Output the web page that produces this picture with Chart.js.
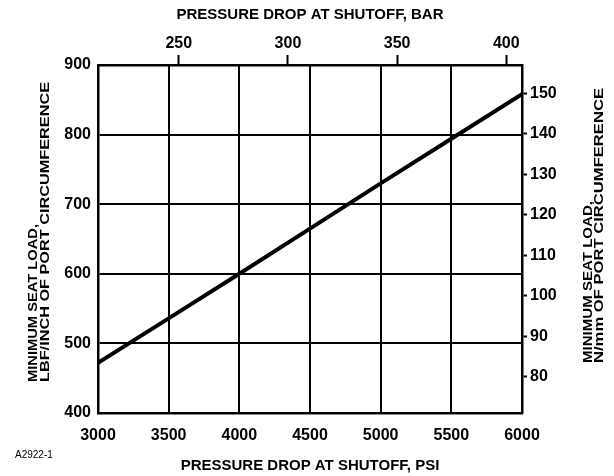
<!DOCTYPE html>
<html>
<head>
<meta charset="utf-8">
<title>Minimum seat load vs pressure drop</title>
<script src="https://cdn.jsdelivr.net/npm/chart.js@4.4.1/dist/chart.umd.min.js"></script>
<style>
  html, body { margin: 0; padding: 0; background: #fff; }
  canvas { display: block; }
</style>
</head>
<body>
<canvas id="seatChart" width="614" height="476"></canvas>
<script>
// Values
const psiValues = [3000, 3500, 4000, 4500, 5000, 5500, 6000];
const seatLoadLbf = [472, 536, 600, 665, 730, 794, 858];

const psiTicks = [3000, 3500, 4000, 4500, 5000, 5500, 6000];
const lbfTicks = [400, 500, 600, 700, 800, 900];
const barTicks = [250, 300, 350, 400];
const nmmTicks = [80, 90, 100, 110, 120, 130, 140, 150];

const leftTitle = ['MINIMUM SEAT LOAD,', 'LBF/INCH OF PORT CIRCUMFERENCE'];
const rightTitle = ['MINIMUM SEAT LOAD,', 'N/mm OF PORT CIRCUMFERENCE'];
const figureNote = 'A2922-1';

const FONT = '"Liberation Sans", Arial, Helvetica, sans-serif';
const tickFont = { family: FONT, size: 16, weight: 'bold' };
const titleFont = { family: FONT, size: 15, weight: 'bold' };

function fixedTicks(list) {
    return function(scale) {
        scale.ticks = list.map(function(v) { return { value: v }; });
    };
}

// the scanned side titles are stretched along their length, so fit each line to a length
function drawVertical(ctx, lines, lengths, x, yBottom, gap) {
    lines.forEach(function(text, i) {
        const w = ctx.measureText(text).width;
        ctx.save();
        ctx.translate(x + i * gap, yBottom);
        ctx.rotate(-Math.PI / 2);
        ctx.scale(lengths[i] / w, 1);
        ctx.fillText(text, 0, 0);
        ctx.restore();
    });
}

const sideTitles = {
    id: 'sideTitles',
    afterDraw(chart) {
        const ctx = chart.ctx;
        ctx.save();
        ctx.fillStyle = '#000';
        ctx.textAlign = 'left';
        ctx.textBaseline = 'middle';
        ctx.font = 'bold 12.5px ' + FONT;
        drawVertical(ctx, leftTitle, [158, 300], 34, 382, 12);
        drawVertical(ctx, rightTitle, [162, 275], 589, 363, 11);
        ctx.font = '10px ' + FONT;
        ctx.fillText(figureNote, 15, 455);
        ctx.restore();
    }
};

const plain = function(v) { return String(v); };

new Chart(document.getElementById('seatChart'), {
    type: 'line',
    data: {
        datasets: [{
            data: psiValues.map(function(p, i) { return { x: p, y: seatLoadLbf[i] }; }),
            borderColor: '#000',
            borderWidth: 4,
            pointRadius: 0,
            tension: 0,
            xAxisID: 'x',
            yAxisID: 'y'
        }]
    },
    options: {
        responsive: false,
        animation: false,
        layout: { padding: 0 },
        plugins: { legend: { display: false }, tooltip: { enabled: false } },
        scales: {
            x: {
                type: 'linear', position: 'bottom', min: 3000, max: 6000,
                afterBuildTicks: fixedTicks(psiTicks),
                afterFit: function(s) { s.height = 63; },
                grid: { color: '#000', lineWidth: 2, drawTicks: false },
                border: { color: '#000', width: 2.5 },
                ticks: { font: tickFont, color: '#000', padding: 13, callback: plain },
                title: { display: true, text: 'PRESSURE DROP AT SHUTOFF, PSI', font: titleFont, color: '#000', padding: { top: 0, bottom: 1 } }
            },
            xTop: {
                type: 'linear', axis: 'x', position: 'top', min: 213, max: 407.2,
                afterBuildTicks: fixedTicks(barTicks),
                afterFit: function(s) { s.height = 65; },
                grid: { drawOnChartArea: false, drawTicks: true, tickLength: 10, tickWidth: 2, tickColor: '#000' },
                border: { color: '#000', width: 2.5 },
                ticks: { font: tickFont, color: '#000', padding: 2, callback: plain },
                title: { display: true, text: 'PRESSURE DROP AT SHUTOFF, BAR', font: titleFont, color: '#000', padding: { top: 6, bottom: 0 } }
            },
            y: {
                type: 'linear', position: 'left', min: 400, max: 900,
                afterBuildTicks: fixedTicks(lbfTicks),
                afterFit: function(s) { s.width = 98; },
                grid: { color: '#000', lineWidth: 2, drawTicks: false },
                border: { color: '#000', width: 2.5 },
                ticks: { font: tickFont, color: '#000', padding: 7, callback: plain }
            },
            yRight: {
                type: 'linear', axis: 'y', position: 'right', min: 71, max: 157,
                afterBuildTicks: fixedTicks(nmmTicks),
                afterFit: function(s) { s.width = 92; },
                grid: { drawOnChartArea: false, drawTicks: true, tickLength: 5, tickWidth: 2, tickColor: '#000' },
                border: { color: '#000', width: 2.5 },
                ticks: { font: tickFont, color: '#000', padding: 3, callback: plain }
            }
        }
    },
    plugins: [sideTitles]
});
</script>
</body>
</html>
